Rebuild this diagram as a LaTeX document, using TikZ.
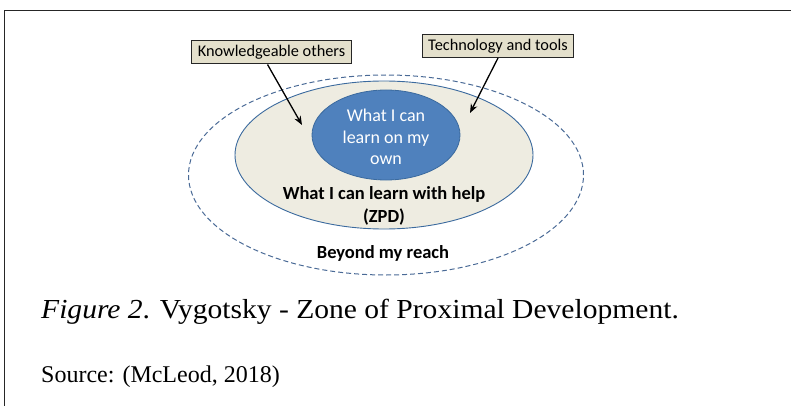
\documentclass[tikz,border=0pt]{standalone}
\usepackage{graphicx}
\usepackage{fontspec}
\setmainfont{Liberation Serif}
\newfontfamily\calib{Carlito}
\usetikzlibrary{arrows.meta,shapes.geometric}
\definecolor{zpdfill}{HTML}{EEECE1}
\definecolor{boxfill}{HTML}{E4E0CC}
\definecolor{ownfill}{HTML}{4F81BD}
\definecolor{ownline}{HTML}{3B6A9E}
\definecolor{dashline}{HTML}{4A6A96}
\tikzset{
  labelbox/.style={draw=black!85, line width=1pt, fill=boxfill, font=\calib\fontsize{16.3}{18}\selectfont, inner xsep=6pt, inner ysep=2pt, minimum height=23pt},
  pointer/.style={-{Stealth[length=9pt,width=7pt]}, line width=1.3pt, black},
  zonetext/.style={font=\calib\bfseries\fontsize{18.5}{23}\selectfont, align=center},
}
\begin{document}
\begin{tikzpicture}[x=1pt,y=-1pt]
\useasboundingbox (0,0) rectangle (791,406);
\draw[line width=1.2pt, black!85] (4.5,406) -- (4.5,10.5) -- (791,10.5);
% outer dashed ellipse
\node[draw=dashline, dash pattern=on 5pt off 3pt, line width=1pt, ellipse, minimum width=395pt, minimum height=200pt] (beyond) at (386,175) {};
% middle ellipse
\node[draw=ownline, fill=zpdfill, line width=0.9pt, ellipse, minimum width=298pt, minimum height=148pt] (zpd) at (384,155) {};
% inner ellipse
\node[draw=ownline, fill=ownfill, line width=0.8pt, ellipse, minimum width=148pt, minimum height=90pt] (own) at (386,135) {};
\node[font=\calib\fontsize{18}{21.5}\selectfont, text=white, align=center] (owntext) at (386,137) {What I can\\learn on my\\own};
\node[zonetext] (zpdtext) at (384,206) {What I can learn with help\\(ZPD)};
\node[zonetext] (beyondtext) at (383,253) {Beyond my reach};
% label boxes
\node[labelbox] (ko) at (271.5,52.5) {Knowledgeable others};
\node[labelbox] (tt) at (498,46) {Technology and tools};
\coordinate (kotip) at (302,125);
\coordinate (tttip) at (470,113);
\path (ko.south) ++(-4,0) coordinate (kostart);
\draw[pointer] (kostart) -- (kotip);
\draw[pointer] (tt.south) -- (tttip);
% caption
\node[anchor=base west, font=\fontsize{27.5}{30}\selectfont, inner sep=0pt] (caption) at (41,318) {\scalebox{1.075}[1]{\textit{Figure 2}. Vygotsky - Zone of Proximal Development.}};
\node[anchor=base west, font=\fontsize{24}{28}\selectfont, inner sep=0pt] (source) at (41,382) {Source: (McLeod, 2018)};
\end{tikzpicture}
\end{document}
